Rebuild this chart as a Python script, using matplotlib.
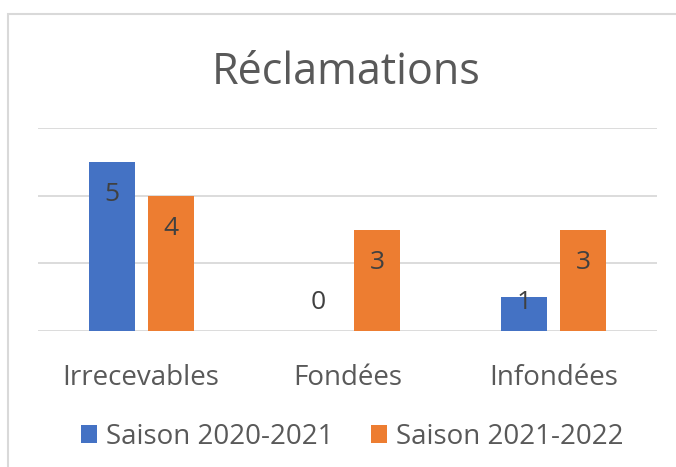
import numpy as np
import matplotlib.pyplot as plt
from matplotlib.patches import Rectangle

# ===== donnees =====
categories = ["Irrecevables", "Fondées", "Infondées"]
saison_2020 = [5, 0, 1]
saison_2021 = [4, 3, 3]
labels = ["Saison 2020-2021", "Saison 2021-2022"]
# ===================

C_BLEU, C_ORANGE = "#4472C4", "#ED7D31"
GRIS_TXT, GRIS_GRILLE = "#595959", "#D9D9D9"

plt.rcParams["font.family"] = ["Open Sans", "DejaVu Sans"]

fig = plt.figure(figsize=(6.76, 4.67), dpi=100)
ax = fig.add_axes([38 / 676, 1 - 331 / 467, (657 - 38) / 676, (331 - 128) / 467])

x = np.arange(len(categories))
w = 0.222
off = 0.143
b1 = ax.bar(x - off, saison_2020, w, color=C_BLEU, label=labels[0], zorder=3)
b2 = ax.bar(x + off, saison_2021, w, color=C_ORANGE, label=labels[1], zorder=3)

# etiquettes de donnees (interieur, en haut de la barre)
for bars, vals in ((b1, saison_2020), (b2, saison_2021)):
    for r, v in zip(bars, vals):
        ax.text(r.get_x() + r.get_width() / 2, max(v - 0.98, 0.83), str(v),
                ha="center", va="center", fontsize=19, color="#404040", zorder=4)

ax.set_xlim(-0.5, 2.5)
ax.set_ylim(0, 6)
ax.set_yticks([0, 2, 4, 6])
ax.yaxis.grid(True, color=GRIS_GRILLE, linewidth=1.3, zorder=0)
ax.tick_params(axis="y", left=False, labelleft=False)
ax.set_xticks(x)
ax.set_xticklabels(categories, fontsize=20, color=GRIS_TXT)
ax.tick_params(axis="x", bottom=False, pad=20)
for s in ax.spines.values():
    s.set_visible(False)
ax.set_axisbelow(True)

fig.text(346 / 676, 1 - 73 / 467, "Réclamations", ha="center", va="center",
         fontsize=31, color=GRIS_TXT)

leg = fig.legend(loc="center", bbox_to_anchor=(352 / 676, 1 - 437 / 467), ncol=2,
                 frameon=False, fontsize=20, handlelength=0.6, handleheight=0.6,
                 handletextpad=0.3, columnspacing=1.35, labelcolor=GRIS_TXT)

# cadre du graphique
fig.patches.append(Rectangle((8 / 676, -0.05), 1.0, 1 - 14 / 467 + 0.05,
                             transform=fig.transFigure, fill=False,
                             edgecolor=GRIS_GRILLE, linewidth=1.5))

fig.savefig("out.png", dpi=100)
